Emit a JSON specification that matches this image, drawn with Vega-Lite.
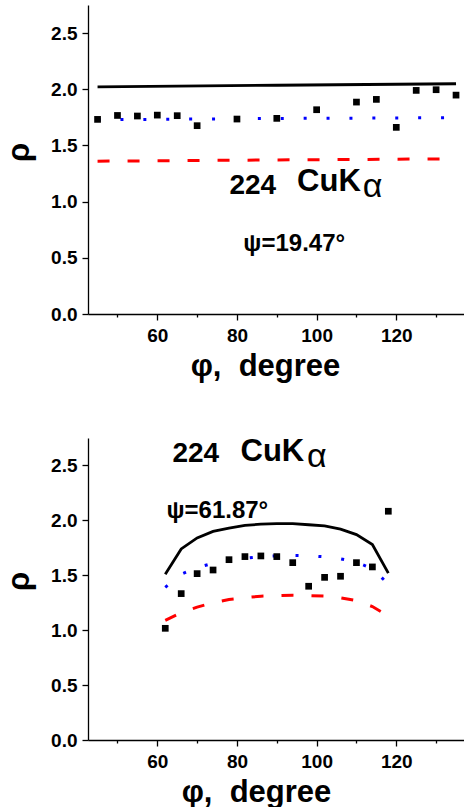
{
  "$schema": "https://vega.github.io/schema/vega-lite/v6.json",
  "padding": {"left": 3, "top": 5, "right": 0, "bottom": 0},
  "spacing": 54,
  "config": {
    "view": {"stroke": null},
    "font": "Liberation Sans",
    "axis": {
      "grid": false,
      "domainColor": "#000000",
      "domainWidth": 1.3,
      "tickColor": "#000000",
      "tickWidth": 1.3,
      "labelFont": "Liberation Sans",
      "labelFontWeight": "bold",
      "labelFontSize": 19,
      "labelColor": "#000000",
      "labelOverlap": false,
      "labelFlush": false,
      "titleFont": "Liberation Sans",
      "titleFontWeight": "bold",
      "titleFontSize": 31,
      "titleColor": "#000000"
    }
  },
  "datasets": {
    "psi19": [
      {"phi": 45, "rho": 1.732, "series": "measured"},
      {"phi": 50, "rho": 1.767, "series": "measured"},
      {"phi": 55, "rho": 1.762, "series": "measured"},
      {"phi": 60, "rho": 1.770, "series": "measured"},
      {"phi": 65, "rho": 1.765, "series": "measured"},
      {"phi": 70, "rho": 1.676, "series": "measured"},
      {"phi": 80, "rho": 1.735, "series": "measured"},
      {"phi": 90, "rho": 1.741, "series": "measured"},
      {"phi": 100, "rho": 1.818, "series": "measured"},
      {"phi": 110, "rho": 1.886, "series": "measured"},
      {"phi": 115, "rho": 1.910, "series": "measured"},
      {"phi": 120, "rho": 1.661, "series": "measured"},
      {"phi": 125, "rho": 1.990, "series": "measured"},
      {"phi": 130, "rho": 1.996, "series": "measured"},
      {"phi": 135, "rho": 1.948, "series": "measured"},
      {"phi": 45, "rho": 2.022, "series": "model_a"},
      {"phi": 90, "rho": 2.036, "series": "model_a"},
      {"phi": 135, "rho": 2.049, "series": "model_a"},
      {"phi": 45, "rho": 1.729, "series": "model_b"},
      {"phi": 90, "rho": 1.740, "series": "model_b"},
      {"phi": 135, "rho": 1.747, "series": "model_b"},
      {"phi": 45, "rho": 1.360, "series": "model_c"},
      {"phi": 90, "rho": 1.371, "series": "model_c"},
      {"phi": 135, "rho": 1.381, "series": "model_c"}
    ],
    "psi61": [
      {"phi": 62, "rho": 1.017, "series": "measured"},
      {"phi": 66, "rho": 1.333, "series": "measured"},
      {"phi": 70, "rho": 1.515, "series": "measured"},
      {"phi": 74, "rho": 1.548, "series": "measured"},
      {"phi": 78, "rho": 1.642, "series": "measured"},
      {"phi": 82, "rho": 1.670, "series": "measured"},
      {"phi": 86, "rho": 1.676, "series": "measured"},
      {"phi": 90, "rho": 1.670, "series": "measured"},
      {"phi": 94, "rho": 1.615, "series": "measured"},
      {"phi": 98, "rho": 1.400, "series": "measured"},
      {"phi": 102, "rho": 1.481, "series": "measured"},
      {"phi": 106, "rho": 1.491, "series": "measured"},
      {"phi": 110, "rho": 1.615, "series": "measured"},
      {"phi": 114, "rho": 1.576, "series": "measured"},
      {"phi": 118, "rho": 2.083, "series": "measured"},
      {"phi": 62, "rho": 1.51, "series": "model_a"},
      {"phi": 66, "rho": 1.74, "series": "model_a"},
      {"phi": 70, "rho": 1.84, "series": "model_a"},
      {"phi": 74, "rho": 1.90, "series": "model_a"},
      {"phi": 78, "rho": 1.93, "series": "model_a"},
      {"phi": 82, "rho": 1.955, "series": "model_a"},
      {"phi": 86, "rho": 1.965, "series": "model_a"},
      {"phi": 90, "rho": 1.970, "series": "model_a"},
      {"phi": 94, "rho": 1.970, "series": "model_a"},
      {"phi": 98, "rho": 1.960, "series": "model_a"},
      {"phi": 102, "rho": 1.950, "series": "model_a"},
      {"phi": 106, "rho": 1.920, "series": "model_a"},
      {"phi": 110, "rho": 1.870, "series": "model_a"},
      {"phi": 114, "rho": 1.780, "series": "model_a"},
      {"phi": 118, "rho": 1.52, "series": "model_a"},
      {"phi": 62, "rho": 1.39, "series": "model_b"},
      {"phi": 66, "rho": 1.51, "series": "model_b"},
      {"phi": 70, "rho": 1.57, "series": "model_b"},
      {"phi": 74, "rho": 1.61, "series": "model_b"},
      {"phi": 78, "rho": 1.635, "series": "model_b"},
      {"phi": 82, "rho": 1.655, "series": "model_b"},
      {"phi": 86, "rho": 1.670, "series": "model_b"},
      {"phi": 90, "rho": 1.676, "series": "model_b"},
      {"phi": 94, "rho": 1.680, "series": "model_b"},
      {"phi": 98, "rho": 1.678, "series": "model_b"},
      {"phi": 102, "rho": 1.668, "series": "model_b"},
      {"phi": 106, "rho": 1.650, "series": "model_b"},
      {"phi": 110, "rho": 1.620, "series": "model_b"},
      {"phi": 114, "rho": 1.560, "series": "model_b"},
      {"phi": 118, "rho": 1.42, "series": "model_b"},
      {"phi": 62, "rho": 1.09, "series": "model_c"},
      {"phi": 66, "rho": 1.16, "series": "model_c"},
      {"phi": 70, "rho": 1.21, "series": "model_c"},
      {"phi": 74, "rho": 1.25, "series": "model_c"},
      {"phi": 78, "rho": 1.28, "series": "model_c"},
      {"phi": 82, "rho": 1.295, "series": "model_c"},
      {"phi": 86, "rho": 1.31, "series": "model_c"},
      {"phi": 90, "rho": 1.315, "series": "model_c"},
      {"phi": 94, "rho": 1.318, "series": "model_c"},
      {"phi": 98, "rho": 1.315, "series": "model_c"},
      {"phi": 102, "rho": 1.31, "series": "model_c"},
      {"phi": 106, "rho": 1.295, "series": "model_c"},
      {"phi": 110, "rho": 1.27, "series": "model_c"},
      {"phi": 114, "rho": 1.215, "series": "model_c"},
      {"phi": 118, "rho": 1.13, "series": "model_c"}
    ]
  },
  "vconcat": [
    {
      "width": 376,
      "height": 309,
      "layer": [
        {
          "data": {"name": "psi19"},
          "transform": [{"filter": "datum.series == 'model_c'"}],
          "mark": {"type": "line", "color": "#ff0000", "strokeWidth": 3, "strokeDash": [12, 18]},
          "encoding": {
            "x": {
              "field": "phi", "type": "quantitative",
              "scale": {"domain": [42.6, 137], "nice": false, "zero": false},
              "axis": {
                "values": [50, 60, 70, 80, 90, 100, 110, 120, 130],
                "labelExpr": "datum.value % 20 == 0 ? datum.label : ''",
                "tickSize": {"condition": {"test": "datum.value % 20 == 0", "value": 6}, "value": 3},
                "labelPadding": 6,
                "title": "φ, \u00a0degree",
                "titlePadding": 6,
                "titleX": 177
              }
            },
            "y": {
              "field": "rho", "type": "quantitative",
              "scale": {"domain": [0, 2.75], "nice": false},
              "axis": {
                "values": [0, 0.25, 0.5, 0.75, 1, 1.25, 1.5, 1.75, 2, 2.25, 2.5],
                "format": ".1f",
                "labelExpr": "datum.value * 2 % 1 == 0 ? datum.label : ''",
                "tickSize": {"condition": {"test": "datum.value * 2 % 1 == 0", "value": 6}, "value": 3},
                "labelPadding": 5,
                "title": "ρ",
                "titlePadding": 15,
                "titleY": 147
              }
            }
          }
        },
        {
          "data": {"name": "psi19"},
          "transform": [{"filter": "datum.series == 'model_b'"}],
          "mark": {"type": "line", "color": "#0000ff", "strokeWidth": 3, "strokeDash": [3, 19.9]},
          "encoding": {"x": {"field": "phi", "type": "quantitative"}, "y": {"field": "rho", "type": "quantitative"}}
        },
        {
          "data": {"name": "psi19"},
          "transform": [{"filter": "datum.series == 'model_a'"}],
          "mark": {"type": "line", "color": "#000000", "strokeWidth": 2.8},
          "encoding": {"x": {"field": "phi", "type": "quantitative"}, "y": {"field": "rho", "type": "quantitative"}}
        },
        {
          "data": {"name": "psi19"},
          "transform": [{"filter": "datum.series == 'measured'"}],
          "mark": {"type": "point", "shape": "square", "filled": true, "color": "#000000", "opacity": 1, "size": 45},
          "encoding": {"x": {"field": "phi", "type": "quantitative"}, "y": {"field": "rho", "type": "quantitative"}}
        },
        {
          "data": {"values": [{"k": 0}]},
          "mark": {"type": "text", "text": "224", "align": "left", "baseline": "alphabetic", "fontSize": 28, "fontWeight": "bold", "color": "#000000"},
          "encoding": {"x": {"datum": 78.1}, "y": {"datum": 1.065}}
        },
        {
          "data": {"values": [{"k": 0}]},
          "mark": {"type": "text", "text": "CuK", "align": "left", "baseline": "alphabetic", "fontSize": 31, "fontWeight": "bold", "color": "#000000"},
          "encoding": {"x": {"datum": 95.1}, "y": {"datum": 1.094}}
        },
        {
          "data": {"values": [{"k": 0}]},
          "mark": {"type": "text", "text": "α", "align": "left", "baseline": "alphabetic", "fontSize": 34, "fontWeight": "normal", "color": "#000000"},
          "encoding": {"x": {"datum": 111.6}, "y": {"datum": 1.038}}
        },
        {
          "data": {"values": [{"k": 0}]},
          "mark": {"type": "text", "text": "ψ=19.47°", "align": "left", "baseline": "alphabetic", "fontSize": 24, "fontWeight": "bold", "color": "#000000"},
          "encoding": {"x": {"datum": 81.6}, "y": {"datum": 0.558}}
        }
      ]
    },
    {
      "width": 376,
      "height": 302,
      "layer": [
        {
          "data": {"name": "psi61"},
          "transform": [{"filter": "datum.series == 'model_c'"}],
          "mark": {"type": "line", "color": "#ff0000", "strokeWidth": 3, "strokeDash": [12, 18]},
          "encoding": {
            "x": {
              "field": "phi", "type": "quantitative",
              "scale": {"domain": [42.6, 137], "nice": false, "zero": false},
              "axis": {
                "values": [50, 60, 70, 80, 90, 100, 110, 120, 130],
                "labelExpr": "datum.value % 20 == 0 ? datum.label : ''",
                "tickSize": {"condition": {"test": "datum.value % 20 == 0", "value": 6}, "value": 3},
                "labelPadding": 6,
                "title": "φ, \u00a0degree",
                "titlePadding": 6,
                "titleX": 168
              }
            },
            "y": {
              "field": "rho", "type": "quantitative",
              "scale": {"domain": [0, 2.75], "nice": false},
              "axis": {
                "values": [0, 0.25, 0.5, 0.75, 1, 1.25, 1.5, 1.75, 2, 2.25, 2.5],
                "format": ".1f",
                "labelExpr": "datum.value * 2 % 1 == 0 ? datum.label : ''",
                "tickSize": {"condition": {"test": "datum.value * 2 % 1 == 0", "value": 6}, "value": 3},
                "labelPadding": 5,
                "title": "ρ",
                "titlePadding": 15,
                "titleY": 143
              }
            }
          }
        },
        {
          "data": {"name": "psi61"},
          "transform": [{"filter": "datum.series == 'model_b'"}],
          "mark": {"type": "line", "color": "#0000ff", "strokeWidth": 3, "strokeDash": [3, 19.9]},
          "encoding": {"x": {"field": "phi", "type": "quantitative"}, "y": {"field": "rho", "type": "quantitative"}}
        },
        {
          "data": {"name": "psi61"},
          "transform": [{"filter": "datum.series == 'model_a'"}],
          "mark": {"type": "line", "color": "#000000", "strokeWidth": 2.8},
          "encoding": {"x": {"field": "phi", "type": "quantitative"}, "y": {"field": "rho", "type": "quantitative"}}
        },
        {
          "data": {"name": "psi61"},
          "transform": [{"filter": "datum.series == 'measured'"}],
          "mark": {"type": "point", "shape": "square", "filled": true, "color": "#000000", "opacity": 1, "size": 45},
          "encoding": {"x": {"field": "phi", "type": "quantitative"}, "y": {"field": "rho", "type": "quantitative"}}
        },
        {
          "data": {"values": [{"k": 0}]},
          "mark": {"type": "text", "text": "224", "align": "left", "baseline": "alphabetic", "fontSize": 28, "fontWeight": "bold", "color": "#000000"},
          "encoding": {"x": {"datum": 63.8}, "y": {"datum": 2.536}}
        },
        {
          "data": {"values": [{"k": 0}]},
          "mark": {"type": "text", "text": "CuK", "align": "left", "baseline": "alphabetic", "fontSize": 31, "fontWeight": "bold", "color": "#000000"},
          "encoding": {"x": {"datum": 80.9}, "y": {"datum": 2.545}}
        },
        {
          "data": {"values": [{"k": 0}]},
          "mark": {"type": "text", "text": "α", "align": "left", "baseline": "alphabetic", "fontSize": 34, "fontWeight": "normal", "color": "#000000"},
          "encoding": {"x": {"datum": 97.6}, "y": {"datum": 2.49}}
        },
        {
          "data": {"values": [{"k": 0}]},
          "mark": {"type": "text", "text": "ψ=61.87°", "align": "left", "baseline": "alphabetic", "fontSize": 24, "fontWeight": "bold", "color": "#000000"},
          "encoding": {"x": {"datum": 62.3}, "y": {"datum": 2.017}}
        }
      ]
    }
  ]
}
